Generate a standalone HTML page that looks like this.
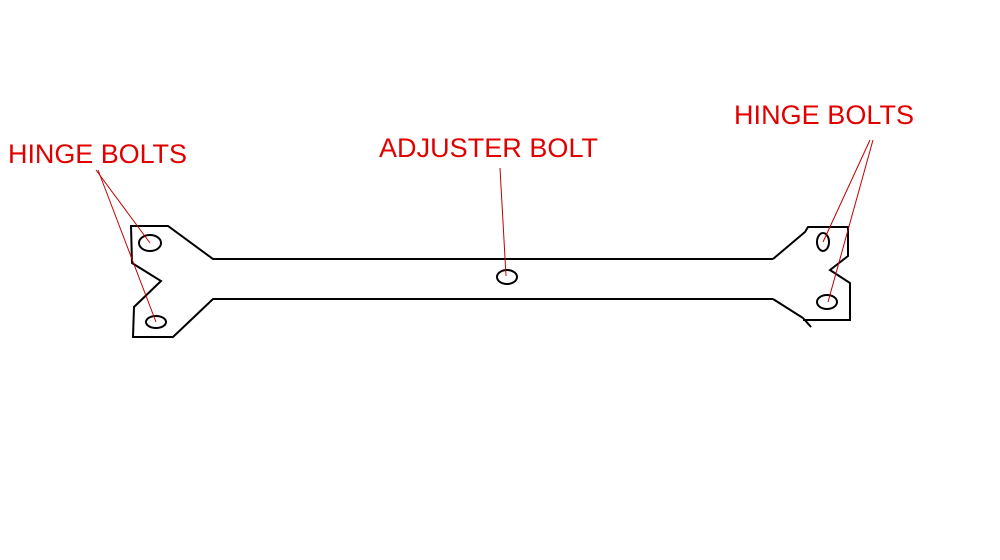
<!DOCTYPE html>
<html><head><meta charset="utf-8"><style>
html,body{margin:0;padding:0;background:#fff;}
svg{display:block}
text{font-family:"Liberation Sans",Arial,sans-serif;font-size:27px;fill:#e00000;}
</style></head><body>
<svg width="1000" height="560" viewBox="0 0 1000 560" xmlns="http://www.w3.org/2000/svg">
<rect width="1000" height="560" fill="#fff"/>
<g fill="none" stroke="#000" stroke-width="2">
<polyline points="773,259 213,259 168,226 131,226 132,263 161,281 134,307 133,337 173,337 213,299 773,299"/>
<polyline points="773,259 805,232 808,227 848,227 848,256 830,270 850,283 850,320 803,320"/>
<polyline points="773,299 803,318 811,327"/>
<ellipse cx="150" cy="243" rx="11" ry="8"/>
<ellipse cx="156" cy="322" rx="10" ry="6"/>
<ellipse cx="507" cy="277" rx="10" ry="7"/>
<ellipse cx="823" cy="242" rx="6" ry="9"/>
<ellipse cx="827" cy="302" rx="10" ry="7"/>
</g>
<g stroke="#c00000" stroke-width="1">
<line x1="96" y1="170" x2="150" y2="243"/>
<line x1="98" y1="170" x2="156" y2="322"/>
<line x1="500" y1="168" x2="506" y2="276"/>
<line x1="870" y1="140" x2="823" y2="242"/>
<line x1="873" y1="140" x2="828" y2="302"/>
</g>
<text x="8" y="163" textLength="179">HINGE BOLTS</text>
<text x="379" y="157" textLength="219">ADJUSTER BOLT</text>
<text x="734" y="124" textLength="180">HINGE BOLTS</text>
</svg>
</body></html>
